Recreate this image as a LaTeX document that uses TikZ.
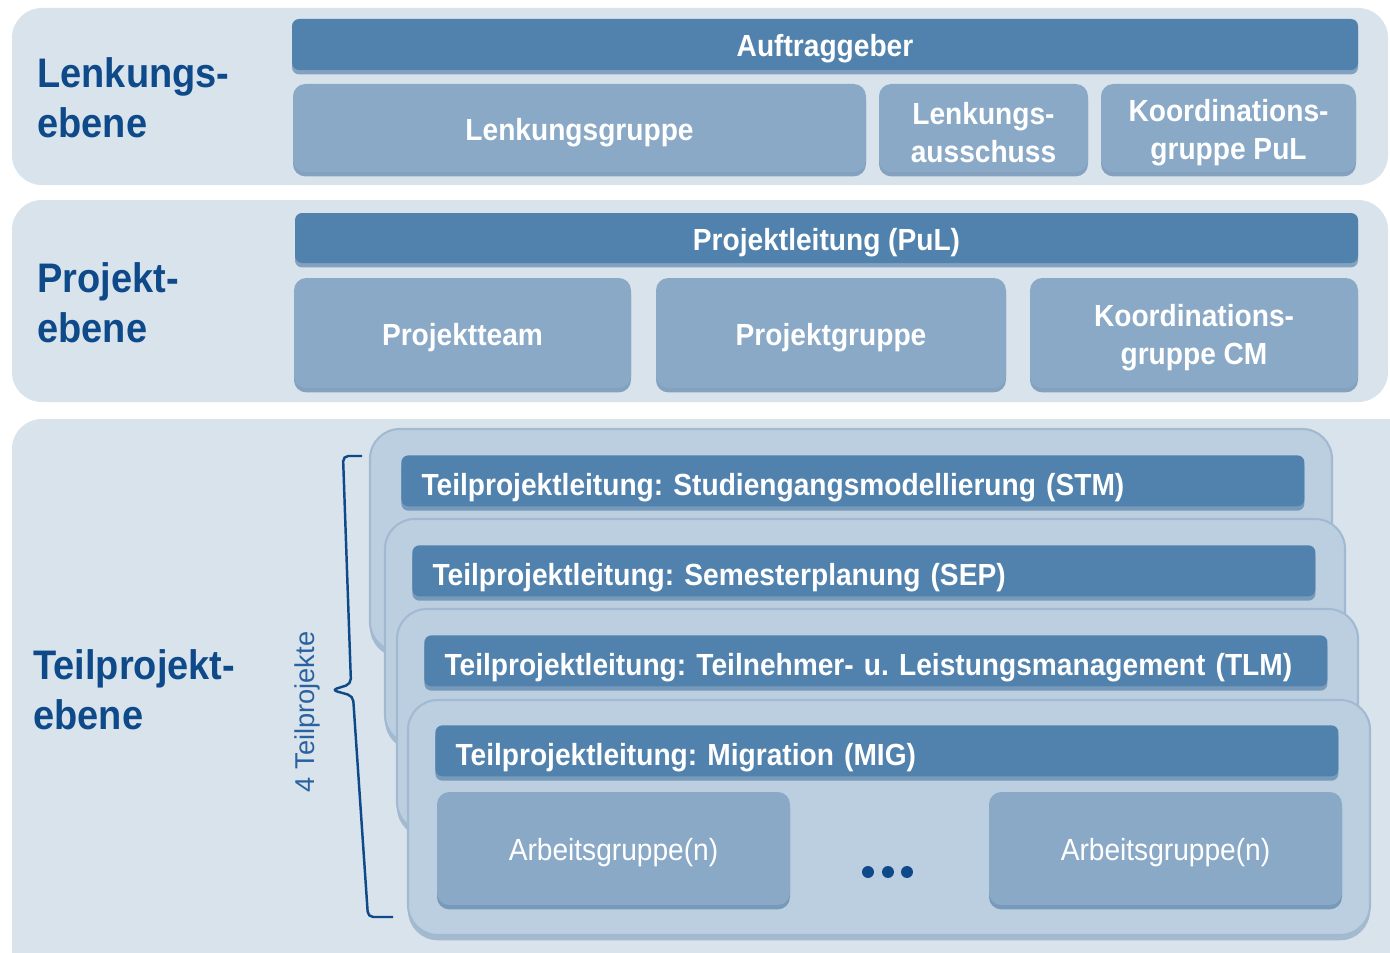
\documentclass[tikz,border=0pt]{standalone}
\usepackage{fontspec}
\setmainfont{Liberation Sans}[FakeStretch=0.92]
\newfontfamily\plainfont{Liberation Sans}
\usetikzlibrary{fit,shadows}
\frenchspacing
\definecolor{bandblue}{HTML}{D9E3EC}
\definecolor{barblue}{HTML}{5082AD}
\definecolor{boxblue}{HTML}{89A9C7}
\definecolor{panelblue}{HTML}{BCCFE0}
\definecolor{paneledge}{HTML}{A2BAD1}
\definecolor{shadeblue}{HTML}{3F6E9B}
\definecolor{headblue}{HTML}{0E4A89}
\definecolor{noteblue}{HTML}{2A62A0}

\tikzset{
  bar/.style={fill=barblue, rounded corners=4pt, inner sep=0pt, text=white,
    font=\bfseries\fontsize{17.4}{21.5}\selectfont,
    drop shadow={shadow xshift=0pt, shadow yshift=-2.5pt, fill=shadeblue, opacity=.55}},
  box/.style={bar, fill=boxblue, rounded corners=7pt},
  boxtext/.style={text=white, align=center, inner sep=0pt, yshift=-2.5pt,
    font=\bfseries\fontsize{17.4}{21.5}\selectfont},
  agtext/.style={boxtext, font=\fontsize{17.4}{21.5}\selectfont},
  tpbar/.style={bar, anchor=north west, minimum width=514pt, minimum height=29pt,
    text width=491pt, inner xsep=11.5pt, align=left, text height=17pt, text depth=0pt},
  panel/.style={fill=panelblue, draw=paneledge, line width=1.2pt, rounded corners=17pt,
    inner sep=0pt,
    drop shadow={shadow xshift=0pt, shadow yshift=-3pt, fill=shadeblue, opacity=.35}},
  level/.style={anchor=west, inner sep=0pt, align=left, text=headblue,
    font=\bfseries\fontsize{23.5}{28.3}\selectfont}
}

\begin{document}
\begin{tikzpicture}[x=0.02cm, y=-0.02cm]
\clip (0,0) rectangle (1390,953);
\fill[white] (0,0) rectangle (1390,953);
% Ebenen
\fill[bandblue, rounded corners=17pt] (12,8) rectangle (1388,185);
\fill[bandblue, rounded corners=17pt] (12,200) rectangle (1388,402);
\fill[bandblue, rounded corners=17pt] (12,419) rectangle (1430,1000);

\node[level] (lenkung) at (37,98) {Lenkungs-\\ebene};
\node[level] (projekt) at (37,303) {Projekt-\\ebene};
\node[level] (teilprojekt) at (33,690) {Teilprojekt-\\ebene};

% Lenkungsebene
\node[bar, fit={(292,19) (1358,70)}, label={[boxtext]center:Auftraggeber}] (auftraggeber) {};
\node[box, fit={(293,84) (866,172)}, label={[boxtext]center:Lenkungsgruppe}] (lgruppe) {};
\node[box, fit={(879,84) (1088,172)}, label={[boxtext]center:Lenkungs-\\ausschuss}] (lausschuss) {};
\node[box, fit={(1101,84) (1356,172)}, label={[boxtext]center:Koordinations-\\gruppe PuL}] (kgpul) {};

% Projektebene
\node[bar, fit={(295,213) (1358,263)}, label={[boxtext]center:Projektleitung (PuL)}] (leitung) {};
\node[box, fit={(294,278) (631,388)}, label={[boxtext]center:Projektteam}] (pteam) {};
\node[box, fit={(656,278) (1006,388)}, label={[boxtext]center:Projektgruppe}] (pgruppe) {};
\node[box, fit={(1030,278) (1358,388)}, label={[boxtext]center:Koordinations-\\gruppe CM}] (kgcm) {};

% Teilprojektebene
\node[panel, fit={(370,429) (1332,652)}] (pstm) {};
\node[tpbar] (stm) at (401,455) {Teilprojektleitung: Studiengangsmodellierung (STM)};
\node[panel, fit={(385,519) (1345,745)}] (psep) {};
\node[tpbar] (sep) at (412,545) {Teilprojektleitung: Semesterplanung (SEP)};
\node[panel, fit={(397,609) (1358,832)}] (ptlm) {};
\node[tpbar] (tlm) at (424,635) {Teilprojektleitung: Teilnehmer- u. Leistungsmanagement (TLM)};
\node[panel, fit={(408,700) (1370,935)}] (pmig) {};
\node[tpbar] (mig) at (435,725) {Teilprojektleitung: Migration (MIG)};
\node[box, fit={(437,792) (790,905)}, label={[agtext]center:Arbeitsgruppe(n)}] (ag1) {};
\node[box, fit={(989,792) (1342,905)}, label={[agtext]center:Arbeitsgruppe(n)}] (ag2) {};
\foreach \x in {868,888,907}
  \fill[headblue] (\x,872) circle (3.4pt);

\draw[headblue, line width=1.4pt, rounded corners=3pt]
  (362,456) -- (343,456) -- (351,684) -- (332,690) -- (353,696) -- (368,917) -- (393,917);
\node[rotate=90, text=noteblue, font=\plainfont\fontsize{15.5}{18}\selectfont] (anzahl)
  at (307,712) {4 Teilprojekte};
\end{tikzpicture}
\end{document}
